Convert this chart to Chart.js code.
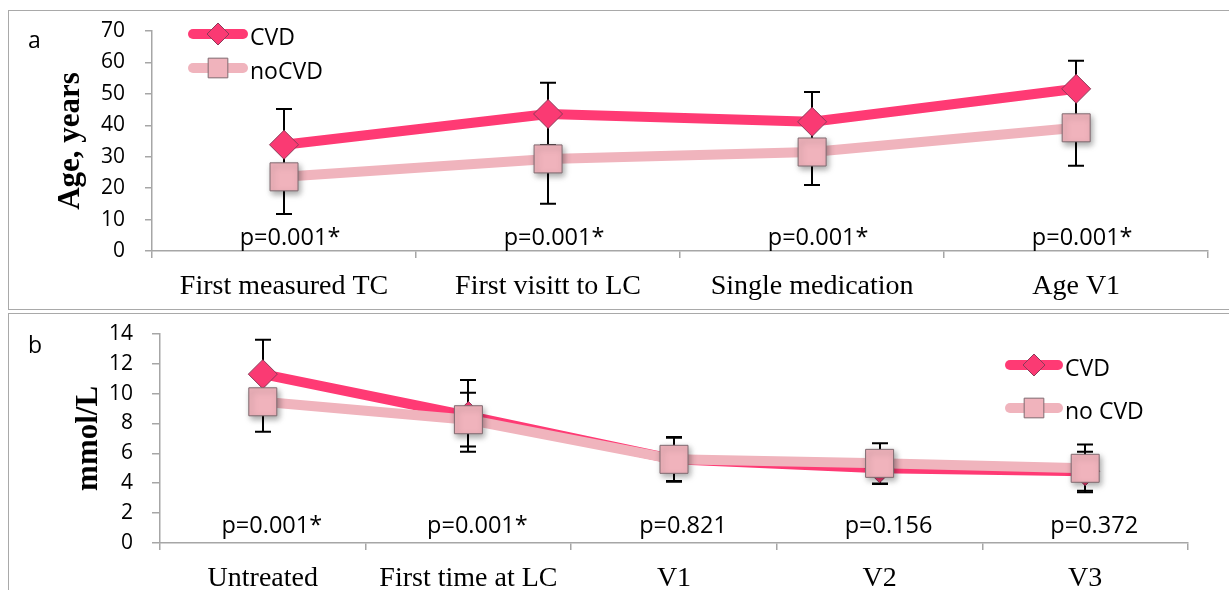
<!DOCTYPE html>
<html><head><meta charset="utf-8">
<script src="https://cdn.jsdelivr.net/npm/chart.js@4/dist/chart.umd.min.js"></script>
<style>
html,body{margin:0;padding:0;background:#fff;width:1229px;height:590px;overflow:hidden;position:relative;}
.box{position:absolute;border:1.5px solid #a9a9a9;box-sizing:border-box;}
#boxA{left:8px;top:10px;width:1240px;height:300px;}
#boxB{left:8px;top:313px;width:1240px;height:300px;}
#wrapA{position:absolute;left:0;top:0;width:1229px;height:309px;}
#wrapB{position:absolute;left:0;top:313px;width:1229px;height:277px;}
</style></head>
<body>
<div class="box" id="boxA"></div>
<div class="box" id="boxB"></div>
<div id="wrapA"><canvas id="chartA"></canvas></div>
<div id="wrapB"><canvas id="chartB"></canvas></div>
<script>
// ---------- Panel a : age ----------
const categoriesA = ['First measured TC', 'First visitt to LC', 'Single medication', 'Age V1'];
const cvdAgeMean   = [33.8, 43.6, 41.1, 51.6];
const cvdAgeSD     = [11.4, 9.9, 9.5, 8.9];
const noCvdAgeMean = [23.6, 29.3, 31.5, 39.2];
const noCvdAgeSD   = [11.8, 14.3, 10.5, 12.1];
const pValuesA     = ['p=0.001*', 'p=0.001*', 'p=0.001*', 'p=0.001*'];
const yTicksA      = [0, 10, 20, 30, 40, 50, 60, 70];
const legendLabelsA = ['CVD', 'noCVD'];

// ---------- Panel b : cholesterol ----------
const categoriesB = ['Untreated', 'First time at LC', 'V1', 'V2', 'V3'];
const cvdTcMean   = [11.3, 8.5, 5.6, 5.0, 4.8];
const cvdTcSD     = [2.3, 2.4, 1.5, 1.05, 1.3];
const noCvdTcMean = [9.45, 8.25, 5.6, 5.33, 5.0];
const noCvdTcSD   = [2.0, 1.8, 1.45, 1.34, 1.6];
const pValuesB    = ['p=0.001*', 'p=0.001*', 'p=0.821', 'p=0.156', 'p=0.372'];
const yTicksB     = [0, 2, 4, 6, 8, 10, 12, 14];
const legendLabelsB = ['CVD', 'no CVD'];

const CVD_COLOR = '#ff3a74';
const NOCVD_COLOR = '#f0b4bd';
const AXIS_COLOR = '#a6a6a6';
const SANS = '"Open Sans", "DejaVu Sans", sans-serif';
const SERIF = '"Liberation Serif", "DejaVu Serif", serif';

const errorBarPlugin = {
  id: 'errorBars',
  beforeDatasetsDraw(chart) {
    const {ctx} = chart;
    const y = chart.scales.y;
    ctx.save();
    ctx.strokeStyle = '#000';
    ctx.lineWidth = 2;
    chart.data.datasets.forEach((ds, i) => {
      if (!ds.errors) return;
      const meta = chart.getDatasetMeta(i);
      meta.data.forEach((pt, j) => {
        const v = ds.data[j], e = ds.errors[j];
        if (v == null || e == null) return;
        const px = Math.round(pt.x);
        const yt = y.getPixelForValue(v + e), yb = y.getPixelForValue(v - e);
        const cap = 8;
        ctx.beginPath();
        ctx.moveTo(px, yt); ctx.lineTo(px, yb);
        ctx.moveTo(px - cap, yt); ctx.lineTo(px + cap, yt);
        ctx.moveTo(px - cap, yb); ctx.lineTo(px + cap, yb);
        ctx.stroke();
      });
    });
    ctx.restore();
  }
};

// soft drop shadow under the square markers only
const shadowPlugin = {
  id: 'squareShadow',
  beforeDatasetDraw(chart, args) {
    const ds = chart.data.datasets[args.index];
    if (ds.pointStyle !== 'rect') return;
    const {ctx} = chart;
    const meta = args.meta;
    ctx.save();
    // draw line first without shadow, then points with shadow
    meta.dataset.draw(ctx, chart.chartArea);
    ctx.shadowColor = 'rgba(0,0,0,0.35)';
    ctx.shadowBlur = 6;
    ctx.shadowOffsetX = 2;
    ctx.shadowOffsetY = 3;
    meta.data.forEach(p => p.draw(ctx, chart.chartArea));
    ctx.restore();
    return false;
  }
};

const annotPlugin = {
  id: 'annot',
  afterDraw(chart, args, opts) {
    const {ctx, chartArea} = chart;
    const x = chart.scales.x;
    ctx.save();
    ctx.fillStyle = '#000';
    ctx.font = '23.5px ' + SANS;
    ctx.textAlign = 'center';
    ctx.textBaseline = 'alphabetic';
    opts.pValues.forEach((t, i) => {
      ctx.fillText(t, x.getPixelForValue(i) + opts.pDx, chartArea.bottom - opts.pRise);
    });
    ctx.textAlign = 'left';
    ctx.font = '23px ' + SANS;
    ctx.fillText(opts.letter, opts.letterX, opts.letterY);
    const lg = opts.legend;
    chart.data.datasets.forEach((ds, i) => {
      const cy = lg.y + i * lg.dy;
      ctx.strokeStyle = ds.borderColor;
      ctx.lineWidth = 10;
      ctx.lineCap = 'round';
      ctx.beginPath();
      ctx.moveTo(lg.x + 5, cy); ctx.lineTo(lg.x + lg.len - 5, cy);
      ctx.stroke();
      ctx.lineCap = 'butt';
      ctx.fillStyle = ds.pointBackgroundColor;
      ctx.strokeStyle = ds.pointBorderColor;
      ctx.lineWidth = 1;
      Chart.helpers.drawPoint(ctx, {pointStyle: ds.pointStyle, radius: ds.pointStyle === 'rect' ? 13.9 : 11, rotation: 0, borderWidth: 1}, lg.x + lg.len / 2, cy);
      ctx.fillStyle = '#000';
      ctx.font = '23px ' + SANS;
      ctx.fillText(lg.labels[i], lg.x + lg.len + 2, cy + 11);
    });
    ctx.restore();
  }
};

function makeChart(id, cfg) {
  return new Chart(document.getElementById(id), {
    type: 'line',
    data: {
      labels: cfg.categories,
      datasets: [
        {
          label: cfg.legendLabels[0], data: cfg.cvd, errors: cfg.cvdSD, order: 2,
          borderColor: CVD_COLOR, borderWidth: 10, tension: 0, fill: false,
          borderJoinStyle: 'round',
          pointStyle: 'rectRot', pointRadius: 14.5, pointBorderWidth: 1,
          pointBackgroundColor: '#fa3a73', pointBorderColor: '#8c3a58'
        },
        {
          label: cfg.legendLabels[1], data: cfg.nocvd, errors: cfg.nocvdSD, order: 1,
          borderColor: NOCVD_COLOR, borderWidth: 10, tension: 0, fill: false,
          borderJoinStyle: 'round',
          pointStyle: 'rect', pointRadius: 19.8, pointBorderWidth: 1,
          pointBackgroundColor: '#f0b3bc', pointBorderColor: '#7f6a70'
        }
      ]
    },
    options: {
      responsive: true, maintainAspectRatio: false, animation: false, events: [],
      layout: {padding: cfg.padding},
      plugins: {
        legend: {display: false}, tooltip: {enabled: false},
        annot: cfg.annot
      },
      scales: {
        x: {
          type: 'category', offset: true,
          grid: {display: true, offset: true, drawOnChartArea: false, drawTicks: true, tickLength: 7, color: AXIS_COLOR, lineWidth: 1.5},
          border: {display: true, color: AXIS_COLOR, width: 1.5},
          ticks: {font: {family: SERIF, size: 28}, color: '#000', padding: 12, maxRotation: 0, autoSkip: false},
          afterFit(s) { s.height = cfg.xHeight; s.paddingLeft = 0; s.paddingRight = 0; }
        },
        y: {
          min: cfg.yTicks[0], max: cfg.yTicks[cfg.yTicks.length - 1],
          afterBuildTicks(s) { s.ticks = cfg.yTicks.map(v => ({value: v})); },
          ticks: {font: {family: SANS, size: 21}, color: '#000', padding: cfg.yPad},
          grid: {drawOnChartArea: false, drawTicks: true, tickLength: cfg.yTickLen, color: AXIS_COLOR, lineWidth: 1.5},
          border: {display: true, color: AXIS_COLOR, width: 1.5},
          title: {display: true, text: cfg.yTitle, color: '#000', font: {family: SERIF, size: 31, weight: 'bold'}, padding: {top: cfg.titlePad, bottom: 0}},
          afterFit(s) { s.width = cfg.yWidth; s.paddingTop = 0; s.paddingBottom = 0; }
        }
      }
    },
    plugins: [errorBarPlugin, shadowPlugin, annotPlugin]
  });
}

makeChart('chartA', {
  categories: categoriesA, cvd: cvdAgeMean, cvdSD: cvdAgeSD, nocvd: noCvdAgeMean, nocvdSD: noCvdAgeSD,
  legendLabels: legendLabelsA, yTicks: yTicksA, yTitle: 'Age, years',
  padding: {left: 40, top: 31, right: 6, bottom: 0}, xHeight: 58, yWidth: 112, yPad: 20, yTickLen: 7, titlePad: 12,
  annot: {pValues: pValuesA, pDx: 6, pRise: 6, letter: 'a', letterX: 28, letterY: 48,
          legend: {x: 188, y: 34, dy: 34, len: 60, labels: legendLabelsA}}
});

makeChart('chartB', {
  categories: categoriesB, cvd: cvdTcMean, cvdSD: cvdTcSD, nocvd: noCvdTcMean, nocvdSD: noCvdTcSD,
  legendLabels: legendLabelsB, yTicks: yTicksB, yTitle: 'mmol/L',
  padding: {left: 40, top: 18, right: 41, bottom: 0}, xHeight: 47, yWidth: 120, yPad: 19, yTickLen: 8, titlePad: 30,
  annot: {pValues: pValuesB, pDx: 9, pRise: 10, letter: 'b', letterX: 28, letterY: 40,
          legend: {x: 1005, y: 52, dy: 43, len: 58, labels: legendLabelsB}}
});
</script>
</body></html>
